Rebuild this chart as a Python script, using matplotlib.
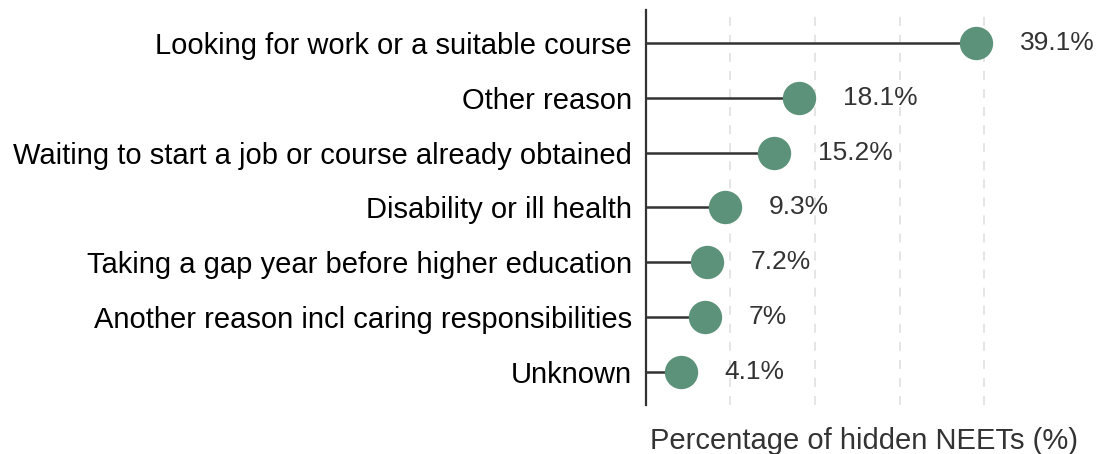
import numpy as np
import matplotlib.pyplot as plt

plt.rcParams['font.family'] = ['Liberation Sans', 'DejaVu Sans']

reasons = [
    "Looking for work or a suitable course",
    "Other reason",
    "Waiting to start a job or course already obtained",
    "Disability or ill health",
    "Taking a gap year before higher education",
    "Another reason incl caring responsibilities",
    "Unknown",
]
values = [39.1, 18.1, 15.2, 9.3, 7.2, 7.0, 4.1]
value_labels = ["39.1%", "18.1%", "15.2%", "9.3%", "7.2%", "7%", "4.1%"]

point_color = "#5B9279"
stem_color = "#333333"

fig = plt.figure(figsize=(11.01, 4.54), dpi=100)
ax = fig.add_axes([0.5867, 0.108, 0.3961, 0.870])

y = np.arange(len(reasons))
ax.hlines(y, 0, values, color=stem_color, linewidth=1.8, zorder=2)
ax.plot(values, y, 'o', markersize=24, color=point_color, markeredgewidth=0, zorder=3)

for yi, v, lab in zip(y, values, value_labels):
    ax.text(v + 5.2, yi, lab, ha='left', va='center', fontsize=19, color='#333333')

ax.set_xlim(0, 51.6)
ax.set_ylim(len(reasons) - 0.4, -0.6)
ax.set_yticks(y)
ax.set_yticklabels(reasons, fontsize=21, color='black', va='center_baseline')
ax.set_xticks([10, 20, 30, 40])
ax.set_xticklabels([])
ax.tick_params(axis='y', length=0, pad=10)
ax.tick_params(axis='x', length=0, pad=0)
ax.grid(axis='x', color='#E3E3E3', linestyle=(0, (5, 5)), linewidth=1.3, zorder=0)
ax.set_axisbelow(True)

for side in ['top', 'right', 'bottom']:
    ax.spines[side].set_visible(False)
ax.spines['left'].set_color('#333333')
ax.spines['left'].set_linewidth(1.6)

ax.set_xlabel("Percentage of hidden NEETs (%)", fontsize=21, color='#333333', labelpad=16)

fig.savefig("out.png", dpi=100)
